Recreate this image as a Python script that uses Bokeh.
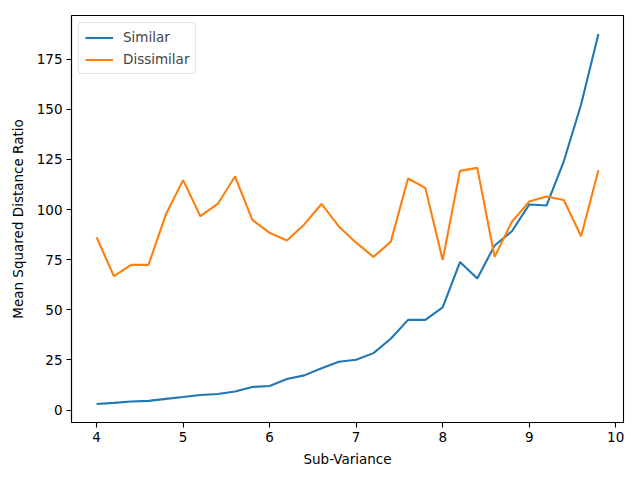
from bokeh.plotting import figure
from bokeh.models import Range1d, FixedTicker, Legend, LegendItem
from bokeh.embed import file_html
from bokeh.resources import INLINE

sub_variance = [4.0, 4.2, 4.4, 4.6, 4.8, 5.0, 5.2, 5.4, 5.6, 5.8,
                6.0, 6.2, 6.4, 6.6, 6.8, 7.0, 7.2, 7.4, 7.6, 7.8,
                8.0, 8.2, 8.4, 8.6, 8.8, 9.0, 9.2, 9.4, 9.6, 9.8]
similar = [3.0, 3.6, 4.3, 4.6, 5.6, 6.5, 7.5, 8.0, 9.3, 11.5,
           12.0, 15.5, 17.3, 20.9, 24.1, 25.1, 28.4, 35.6, 45.0, 45.0,
           51.2, 73.8, 65.6, 82.1, 89.2, 102.5, 102.0, 124.1, 152.4, 187.6]
dissimilar = [86.2, 66.8, 72.4, 72.4, 97.5, 114.7, 96.7, 102.8, 116.5, 94.9,
              88.4, 84.6, 92.6, 102.8, 91.6, 83.5, 76.4, 83.9, 115.5, 110.8,
              74.8, 119.3, 120.8, 76.4, 93.9, 104.0, 106.5, 104.8, 86.7, 119.6]
x_ticks = [4, 5, 6, 7, 8, 9, 10]
y_ticks = [0, 25, 50, 75, 100, 125, 150, 175]

FONT = "DejaVu Sans"
FS = "13.5px"

p = figure(width=632, height=472, output_backend="svg", toolbar_location=None,
           x_range=Range1d(3.71, 10.09), y_range=Range1d(-6.2, 196.8),
           min_border_left=71, min_border_right=9, min_border_top=15, min_border_bottom=50)
p.grid.visible = False
p.outline_line_color = "black"
p.outline_line_width = 1.1
p.background_fill_color = "white"
p.border_fill_color = "white"

l1 = p.line(sub_variance, similar, line_color="#1f77b4", line_width=2.1)
l2 = p.line(sub_variance, dissimilar, line_color="#ff7f0e", line_width=2.1)

for ax, ticks in ((p.xaxis[0], x_ticks), (p.yaxis[0], y_ticks)):
    ax.ticker = FixedTicker(ticks=ticks)
    ax.minor_tick_line_color = None
    ax.major_tick_out = 5
    ax.major_tick_in = 0
    ax.major_tick_line_width = 1.1
    ax.axis_line_width = 1.1
    ax.major_label_text_font = FONT
    ax.major_label_text_font_size = FS
    ax.major_label_text_color = "black"
    ax.axis_label_text_font = FONT
    ax.axis_label_text_font_size = FS
    ax.axis_label_text_font_style = "normal"
    ax.axis_label_text_color = "black"
    ax.major_label_standoff = 4

p.xaxis.axis_label = "Sub-Variance"
p.yaxis.axis_label = "Mean Squared Distance Ratio"
p.xaxis.axis_label_standoff = 6
p.yaxis.axis_label_standoff = 8

legend = Legend(items=[LegendItem(label="Similar", renderers=[l1]),
                       LegendItem(label="Dissimilar", renderers=[l2])],
                location="top_left")
legend.margin = 7
legend.padding = 6
legend.spacing = 6
legend.glyph_width = 28
legend.glyph_height = 15
legend.label_height = 15
legend.label_standoff = 10
legend.label_text_font = FONT
legend.label_text_font_size = FS
legend.border_line_color = "#cccccc"
legend.border_line_width = 1
legend.border_radius = 3
legend.background_fill_alpha = 0.8
p.add_layout(legend)

open("out.html", "w").write(file_html(p, INLINE))
